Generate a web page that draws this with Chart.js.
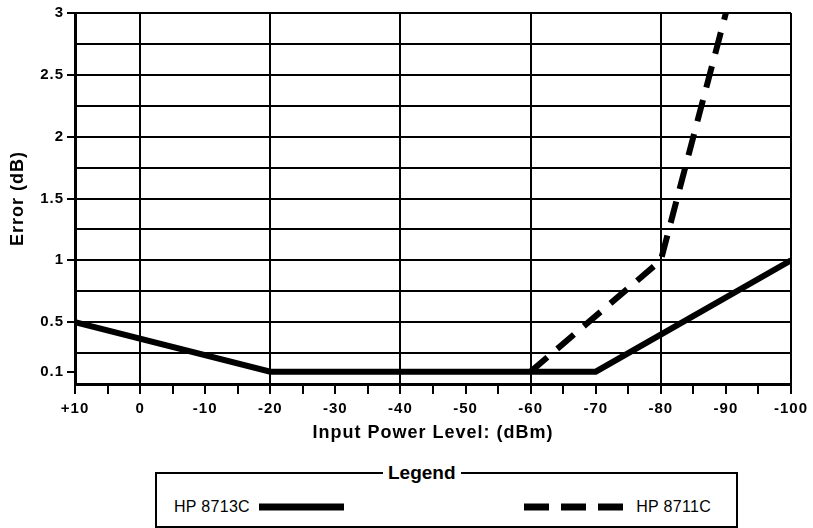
<!DOCTYPE html>
<html>
<head>
<meta charset="utf-8">
<script src="https://cdn.jsdelivr.net/npm/chart.js@4.4.1/dist/chart.umd.min.js"></script>
<style>
  body { margin: 0; background: #fff; font-family: "Liberation Sans", Arial, sans-serif; }
  #wrap { position: relative; width: 813px; height: 528px; overflow: hidden; }
  #errChart { position: absolute; left: 0; top: 0; }
  #legendBox {
    position: absolute; left: 155px; top: 462px; width: 583px; height: 66px;
    margin: 0; padding: 0 25px 0 17px; border: 2px solid #000; box-sizing: border-box;
  }
  #legendBox legend { font-weight: bold; font-size: 19px; padding: 0 5px; margin-left: 209px; }
  #legendItems { display: flex; justify-content: space-between; margin-top: 14px; font-size: 16px; letter-spacing: 0.3px; }
  #legendItems .item { display: flex; align-items: center; gap: 9px; }
  #legendItems canvas { display: block; }
</style>
</head>
<body>
<div id="wrap">
  <canvas id="errChart" width="813" height="445"></canvas>
  <fieldset id="legendBox">
    <legend>Legend</legend>
    <div id="legendItems"></div>
  </fieldset>
</div>
<script>
// input power (dBm) and error (dB)
const seriesNames = ["HP 8713C", "HP 8711C"];
const power8713 = [10, -20, -70, -100];
const error8713 = [0.5, 0.1, 0.1, 1.0];
const power8711 = [-60, -80, -90];
const error8711 = [0.1, 1.0, 3.0];

const yTickValues = [0, 0.1, 0.25, 0.5, 0.75, 1, 1.25, 1.5, 1.75, 2, 2.25, 2.5, 2.75, 3];
const yLabelValues = [0.1, 0.5, 1, 1.5, 2, 2.5, 3];

function points(xs, ys) {
  return xs.map((x, i) => ({ x: x, y: ys[i] }));
}

// legend drawn as html, built from the datasets
const htmlLegend = {
  id: "htmlLegend",
  afterUpdate(chart) {
    const row = document.getElementById("legendItems");
    row.innerHTML = "";
    chart.data.datasets.forEach((ds, i) => {
      const item = document.createElement("div");
      item.className = "item";
      const label = document.createElement("span");
      label.textContent = ds.label;
      const swatch = document.createElement("canvas");
      swatch.width = ds.legendLength;
      swatch.height = 8;
      const c = swatch.getContext("2d");
      c.strokeStyle = ds.borderColor;
      c.lineWidth = 7;
      c.setLineDash(ds.legendDash);
      c.beginPath();
      c.moveTo(0, 4);
      c.lineTo(swatch.width, 4);
      c.stroke();
      if (i === 0) item.append(label, swatch);
      else item.append(swatch, label);
      row.appendChild(item);
    });
  }
};

// the printed axis text is a bit spread out
const spacedText = {
  id: "spacedText",
  beforeDraw(chart) { chart.ctx.letterSpacing = "1px"; },
  afterDraw(chart) { chart.ctx.letterSpacing = "0px"; }
};

const ctx = document.getElementById("errChart").getContext("2d");
const chart = new Chart(ctx, {
  type: "line",
  data: {
    datasets: [
      {
        label: seriesNames[0],
        data: points(power8713, error8713),
        borderColor: "#000",
        borderWidth: 6,
        borderJoinStyle: "miter",
        pointRadius: 0,
        legendDash: [],
        legendLength: 85,
      },
      {
        label: seriesNames[1],
        data: points(power8711, error8711),
        borderColor: "#000",
        borderWidth: 6,
        borderDash: [22, 13],
        pointRadius: 0,
        legendDash: [25, 12],
        legendLength: 103,
      },
    ],
  },
  options: {
    responsive: false,
    animation: false,
    layout: { padding: { left: 0, top: 13, right: 22, bottom: 0 } },
    plugins: { legend: { display: false }, tooltip: { enabled: false } },
    scales: {
      x: {
        type: "linear",
        reverse: true,
        min: -100,
        max: 10,
        afterFit(scale) { scale.height = 61; },
        ticks: {
          stepSize: 5,
          autoSkip: false,
          maxRotation: 0,
          padding: 6,
          color: "#000",
          font: { family: "Liberation Sans", size: 15, weight: "bold" },
          callback: (v) => (v % 10 === 0 ? (v > 0 ? "+" + v : String(v)) : ""),
        },
        grid: {
          color: (c) => (c.tick && (c.tick.value % 20 === 0 || c.tick.value === 10) ? "#000" : "rgba(0,0,0,0)"),
          lineWidth: 2,
          tickLength: 10,
          tickColor: "#000",
          tickWidth: 2,
        },
        border: { color: "#000", width: 3 },
        title: {
          display: true,
          text: "Input Power Level: (dBm)",
          color: "#000",
          font: { family: "Liberation Sans", size: 18, weight: "bold" },
          padding: { top: 0, bottom: 1 },
        },
      },
      y: {
        min: 0,
        max: 3,
        afterFit(scale) { scale.width = 75; },
        afterBuildTicks(scale) { scale.ticks = yTickValues.map((v) => ({ value: v })); },
        ticks: {
          autoSkip: false,
          padding: 3,
          color: "#000",
          font: { family: "Liberation Sans", size: 15, weight: "bold" },
          callback: (v) => (yLabelValues.includes(v) ? String(v) : ""),
        },
        grid: {
          color: (c) => (c.tick && c.tick.value === 0.1 ? "rgba(0,0,0,0)" : "#000"),
          lineWidth: 2,
          tickLength: 8,
          tickColor: (c) => (c.tick && yLabelValues.includes(c.tick.value) ? "#000" : "rgba(0,0,0,0)"),
          tickWidth: 2,
        },
        border: { color: "#000", width: 3 },
        title: {
          display: true,
          text: "Error (dB)",
          color: "#000",
          font: { family: "Liberation Sans", size: 18, weight: "bold" },
          padding: { top: 7, bottom: 0 },
        },
      },
    },
  },
  plugins: [htmlLegend, spacedText],
});
</script>
</body>
</html>
